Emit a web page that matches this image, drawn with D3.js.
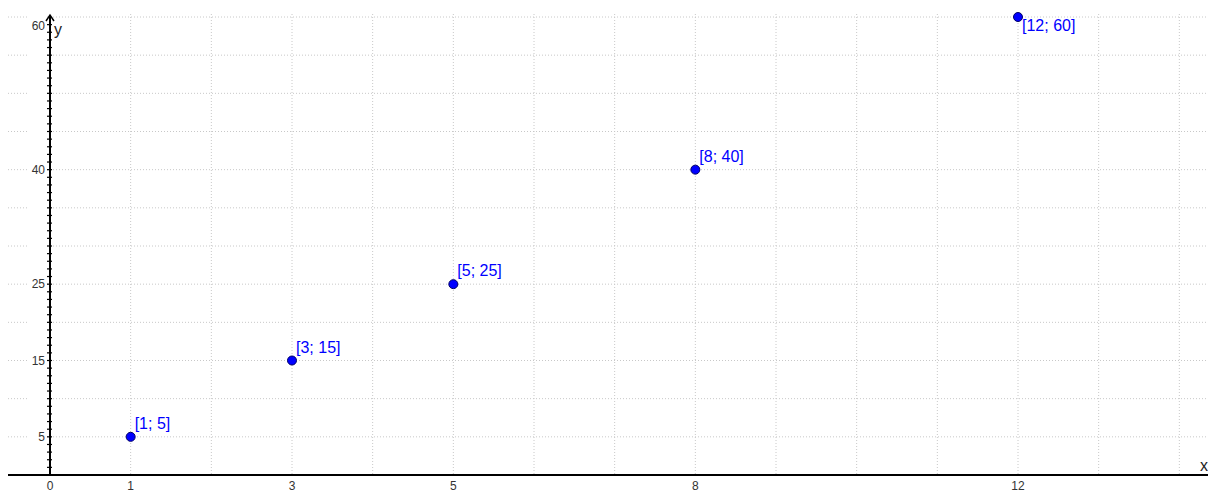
<!DOCTYPE html>
<html>
<head>
<meta charset="utf-8">
<script src="https://d3js.org/d3.v7.min.js"></script>
<style>
  body { margin: 0; background: #fff; }
  .grid line { stroke: #c8c8c8; stroke-width: 1; stroke-dasharray: 1, 2; }
  .tick-label { font: 12px "Liberation Sans", Arial, sans-serif; fill: #333; }
  .pt-label { font: 16px "Liberation Sans", Arial, sans-serif; fill: #0000ff; }
  .axis-name { font: 16px "Liberation Sans", Arial, sans-serif; fill: #222; }
</style>
</head>
<body>
<svg width="1208" height="492"></svg>
<script>
  // data points
  var xs = [1, 3, 5, 8, 12];
  var ys = [5, 15, 25, 40, 60];
  // axis tick labels
  var xTicks = [0, 1, 3, 5, 8, 12];
  var yTicks = [5, 15, 25, 40, 60];

  var svg = d3.select("svg"),
      width = +svg.attr("width"),
      height = +svg.attr("height");

  // x = 0 at px 50, 1 unit ≈ 80.67px; y = 0 at px 475, 1 unit ≈ 7.636px
  var x = d3.scaleLinear().domain([0, 12]).range([50, 1018]);
  var y = d3.scaleLinear().domain([0, 60]).range([475, 17]);

  // grid
  var grid = svg.append("g").attr("class", "grid");
  grid.selectAll(".v").data(d3.range(1, 15)).enter().append("line")
      .attr("x1", function (d) { return x(d); }).attr("x2", function (d) { return x(d); })
      .attr("y1", 14).attr("y2", y(0));
  grid.selectAll(".h").data(d3.range(5, 61, 5)).enter().append("line")
      .attr("x1", 8).attr("x2", width)
      .attr("y1", function (d) { return y(d); }).attr("y2", function (d) { return y(d); });

  // white strip behind y labels
  svg.append("rect").attr("x", 28).attr("y", 0).attr("width", 18).attr("height", y(0) - 2)
      .attr("fill", "#fff");

  // x axis
  svg.append("line").attr("x1", 8).attr("x2", width)
      .attr("y1", y(0)).attr("y2", y(0))
      .attr("stroke", "#000").attr("stroke-width", 2);
  svg.append("text").attr("class", "axis-name")
      .attr("x", 1200).attr("y", y(0) - 4).text("x");

  // y axis
  svg.append("line").attr("x1", x(0)).attr("x2", x(0))
      .attr("y1", y(0)).attr("y2", 15)
      .attr("stroke", "#000").attr("stroke-width", 2);
  svg.append("path")
      .attr("d", "M" + (x(0) - 4) + ",21L" + x(0) + ",15L" + (x(0) + 4) + ",21")
      .attr("fill", "none").attr("stroke", "#000").attr("stroke-width", 1.5);
  svg.selectAll(".ytk").data(d3.range(1, 60)).enter().append("line")
      .attr("x1", x(0) - 3).attr("x2", x(0) + 2)
      .attr("y1", function (d) { return y(d); }).attr("y2", function (d) { return y(d); })
      .attr("stroke", "#000").attr("stroke-width", 1.2);
  svg.append("text").attr("class", "axis-name")
      .attr("x", 54).attr("y", 35).text("y");

  // tick labels
  svg.selectAll(".xl").data(xTicks).enter().append("text")
      .attr("class", "tick-label").attr("text-anchor", "middle")
      .attr("x", function (d) { return x(d); }).attr("y", 490)
      .text(function (d) { return d; });
  svg.selectAll(".yl").data(yTicks).enter().append("text")
      .attr("class", "tick-label").attr("text-anchor", "end")
      .attr("x", 45).attr("y", function (d) { return Math.max(y(d), 26) + 4; })
      .text(function (d) { return d; });

  // points
  var pts = xs.map(function (v, i) { return [v, ys[i]]; });
  svg.selectAll(".pt").data(pts).enter().append("circle")
      .attr("cx", function (d) { return x(d[0]); })
      .attr("cy", function (d) { return y(d[1]); })
      .attr("r", 4.5)
      .attr("fill", "#0000ff").attr("stroke", "#000066").attr("stroke-width", 1);
  svg.selectAll(".pl").data(pts).enter().append("text")
      .attr("class", "pt-label")
      .attr("x", function (d) { return x(d[0]) + 4; })
      .attr("y", function (d) { return y(d[1]) < 30 ? y(d[1]) + 14 : y(d[1]) - 8; })
      .text(function (d) { return "[" + d[0] + "; " + d[1] + "]"; });
</script>
</body>
</html>
